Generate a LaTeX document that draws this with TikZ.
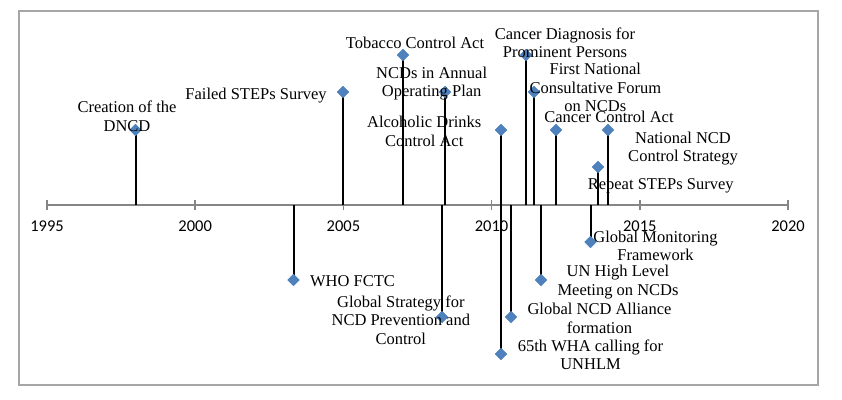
\documentclass[tikz,border=0pt]{standalone}
\usepackage{fontspec}
\setmainfont{Liberation Serif}
\newfontfamily\axisfont{Carlito}
\usetikzlibrary{shapes.geometric}
\definecolor{mk}{HTML}{4F81BD}
\definecolor{axgray}{HTML}{868686}
\definecolor{framegray}{HTML}{A6A6A6}
\begin{document}
\begin{tikzpicture}[x=1pt,y=-1pt,
  lbl/.style={font=\fontsize{16.5}{18.7}\selectfont, align=center, inner sep=0pt, anchor=base},
  yr/.style={font=\axisfont\fontsize{16.5}{19}\selectfont, inner sep=0pt, anchor=base},
  dmd/.style={diamond, fill=mk, minimum size=12pt, inner sep=0pt},
  stem/.style={line width=2pt, black},
  tick/.style={axgray, line width=1.5pt},
  ]
\useasboundingbox (0,0) rectangle (842,399);
\draw[framegray, line width=1.3pt] (19,11) rectangle (818,385);

% axis
\coordinate (a0) at (47,205);
\coordinate (a1) at (788,205);
\draw[axgray, line width=2.5pt] (a0) -- (a1);
\foreach \i/\xx in {1995/47,2000/195.2,2005/343.4,2010/491.6,2015/639.8,2020/788}{
  \coordinate (t\i) at (\xx,205);
  \draw[tick] ([yshift=-5pt]t\i) -- ([yshift=5pt]t\i);
  \node[yr] (y\i) at (\xx,231) {\i};
}

% stems and markers above
\foreach \n/\xx/\yy in {e1/135.5/130, e2/343/92, e3/403/55, e4/445/92, e5/501/130,
                        e6/526/55, e7/534/92, e8/556/130, e9/598/167, e10/608/130}{
  \coordinate (b\n) at (\xx,205);
  \node[dmd] (\n) at (\xx,\yy) {};
  \draw[stem] (b\n) -- (\n.center);
}
% stems and markers below
\foreach \n/\xx/\yy in {f1/293.5/280, f2/442/317, f3/501/354, f4/511/317, f5/541/280, f6/590.5/242}{
  \coordinate (b\n) at (\xx,205);
  \node[dmd] (\n) at (\xx,\yy) {};
  \draw[stem] (b\n) -- (\n.center);
}
% redraw markers on top of stems
\foreach \n in {e1,e2,e3,e4,e5,e6,e7,e8,e9,e10,f1,f2,f3,f4,f5,f6}{
  \fill[mk] (\n.north) -- (\n.east) -- (\n.south) -- (\n.west) -- cycle;
}

% labels (anchor = baseline of last line)
\node[lbl] (l1) at (127,131.2) {Creation of the\\DNCD};
\node[lbl] (l2) at (256,99.5) {Failed STEPs Survey};
\node[lbl] (l3) at (415,48) {Tobacco Control Act};
\node[lbl] (l4) at (431.7,96.7) {NCDs in Annual\\Operating Plan};
\node[lbl] (l5) at (424.2,146.2) {Alcoholic Drinks\\Control Act};
\node[lbl] (l6) at (565,57.7) {Cancer Diagnosis for\\Prominent Persons};
\node[lbl] (l7) at (595.3,111.9) {First National\\Consultative Forum\\on NCDs};
\node[lbl] (l8) at (609,122) {Cancer Control Act};
\node[lbl] (l9) at (683,161.7) {National NCD\\Control Strategy};
\node[lbl] (l10) at (660.7,189) {Repeat STEPs Survey};
\node[lbl] (m1) at (352.5,286) {WHO FCTC};
\node[lbl] (m2) at (400.8,344.4) {Global Strategy for\\NCD Prevention and\\Control};
\node[lbl] (m3) at (590.5,369.7) {65th WHA calling for\\UNHLM};
\node[lbl] (m4) at (599.5,333.2) {Global NCD Alliance\\formation};
\node[lbl] (m5) at (618,295.2) {UN High Level\\Meeting on NCDs};
\node[lbl] (m6) at (655.5,260.7) {Global Monitoring\\Framework};
\end{tikzpicture}
\end{document}
